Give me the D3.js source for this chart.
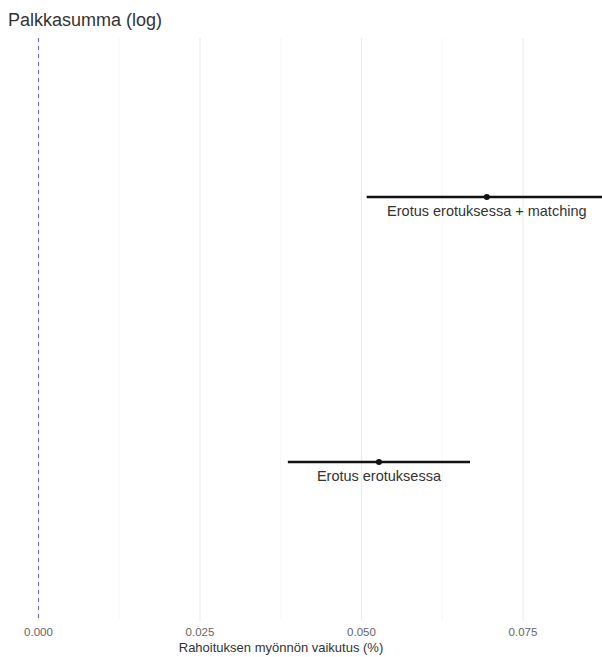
<!DOCTYPE html>
<html><head><meta charset="utf-8">
<script src="https://cdn.jsdelivr.net/npm/d3@7"></script>
<style>body{margin:0;background:#fff;} svg{display:block;font-family:"Liberation Sans",Arial,sans-serif;}</style>
</head><body>
<svg id="c" width="602" height="657"></svg>
<script>
const models = ["Erotus erotuksessa", "Erotus erotuksessa + matching"];
const estimates = [0.0527, 0.0694];
const lower = [0.0386, 0.0508];
const upper = [0.0668, 0.0880];
const xTicks = [0, 0.025, 0.05, 0.075];
const xTickLabels = ["0.000", "0.025", "0.050", "0.075"];
const xMinor = [0.0125, 0.0375, 0.0625, 0.0875];
const title = "Palkkasumma (log)";
const xTitle = "Rahoituksen myönnön vaikutus (%)";

(function () {
const svg = d3.select("#c");
const W = 602, H = 657;
const pTop = 38, pBottom = 621;
const x = d3.scaleLinear().domain([0, 0.075]).range([38.5, 523]);
const y = d3.scalePoint().domain(models).range([462, 197]);

// grid
svg.append("g").selectAll("line").data(xMinor).join("line")
  .attr("x1", d => x(d)).attr("x2", d => x(d)).attr("y1", pTop).attr("y2", pBottom)
  .attr("stroke", "#f2f2f2").attr("stroke-width", 0.6);
svg.append("g").selectAll("line").data(xTicks).join("line")
  .attr("x1", d => x(d)).attr("x2", d => x(d)).attr("y1", pTop).attr("y2", pBottom)
  .attr("stroke", "#ebebeb").attr("stroke-width", 1.1);

// zero line
svg.append("line").attr("x1", x(0)).attr("x2", x(0)).attr("y1", pTop).attr("y2", pBottom)
  .attr("stroke", "#6a6ac8").attr("stroke-width", 1.1).attr("stroke-dasharray", "4,4");

svg.append("clipPath").attr("id", "pc").append("rect")
  .attr("x", 0).attr("y", pTop).attr("width", W).attr("height", pBottom - pTop);

const g = svg.append("g").attr("clip-path", "url(#pc)");
models.forEach((m, i) => {
  g.append("line").attr("x1", x(lower[i])).attr("x2", x(upper[i]))
    .attr("y1", y(m)).attr("y2", y(m)).attr("stroke", "#111").attr("stroke-width", 2.6);
  g.append("circle").attr("cx", x(estimates[i])).attr("cy", y(m)).attr("r", 3).attr("fill", "#111");
  g.append("text").attr("x", x(estimates[i])).attr("y", y(m) + 19)
    .attr("text-anchor", "middle").attr("font-size", 14.5).attr("fill", "#333").text(m);
});

// axis labels
svg.append("g").selectAll("text").data(xTicks).join("text")
  .attr("x", d => x(d)).attr("y", 636).attr("text-anchor", "middle")
  .attr("font-size", 11.5).attr("fill", "#666").text((d, i) => xTickLabels[i]);

svg.append("text").attr("x", 281).attr("y", 652).attr("text-anchor", "middle")
  .attr("font-size", 13).attr("fill", "#333").text(xTitle);

svg.append("text").attr("x", 8).attr("y", 26).attr("font-size", 18).attr("fill", "#333").text(title);
})();
</script>
</body></html>
